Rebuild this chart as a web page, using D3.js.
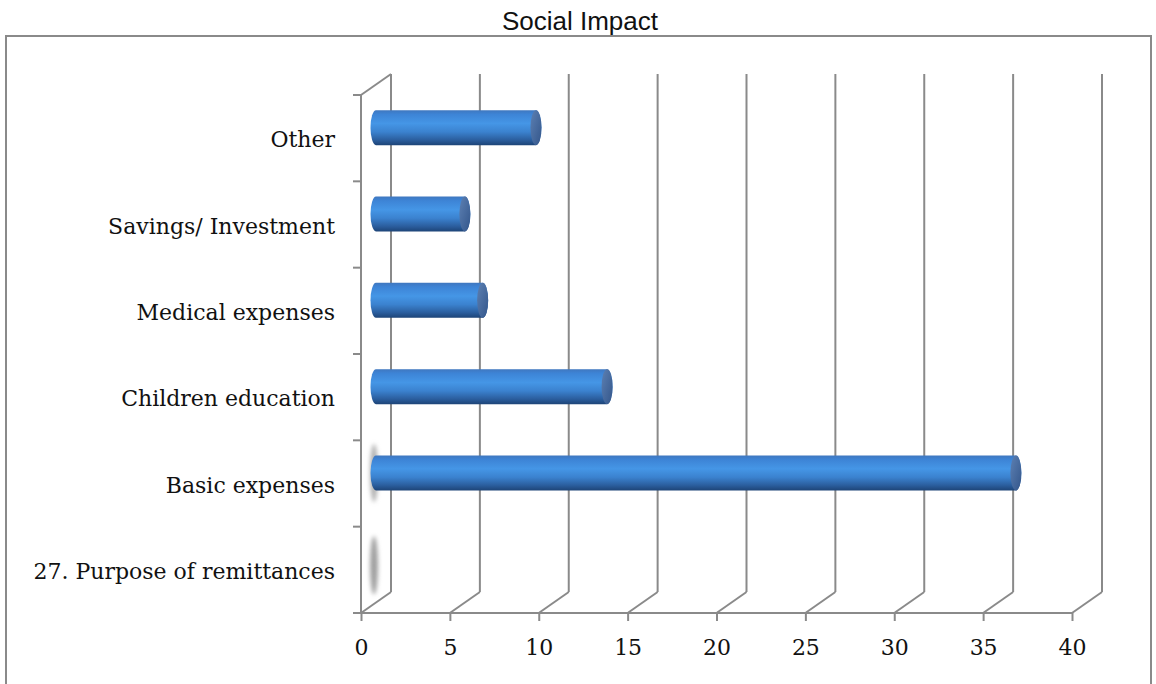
<!DOCTYPE html>
<html>
<head>
<meta charset="utf-8">
<script src="https://cdn.jsdelivr.net/npm/d3@7"></script>
<style>
  html, body { margin: 0; padding: 0; background: #fff; }
  svg { display: block; }
</style>
</head>
<body>
<svg id="chart" width="1156" height="684"></svg>
<script>
// Purpose of remittances, bottom row first
const categories = [
  "27. Purpose of remittances",
  "Basic expenses",
  "Children education",
  "Medical expenses",
  "Savings/ Investment",
  "Other"
];
const values = [0, 36, 13, 6, 5, 9];
const xTicks = [0, 5, 10, 15, 20, 25, 30, 35, 40];
const title = "Social Impact";

const svg = d3.select("#chart");

// front plane geometry and 3D depth offset
const x = d3.scaleLinear().domain([0, 40]).range([361, 1072]);
const y = d3.scaleBand().domain(categories).range([613, 95]).paddingInner(0).paddingOuter(0);
const depth = { dx: 30, dy: -21 };
const gridColor = "#8a8a8a";
const serif = "'DejaVu Serif', 'Liberation Serif', serif";
const labelSize = 22;

// outer frame
svg.append("rect")
  .attr("x", 6).attr("y", 36)
  .attr("width", 1145).attr("height", 660)
  .attr("fill", "none").attr("stroke", gridColor).attr("stroke-width", 2);

svg.append("text")
  .attr("x", 580).attr("y", 30)
  .attr("text-anchor", "middle")
  .attr("font-family", "'Liberation Sans', Arial, sans-serif")
  .attr("font-size", 26)
  .attr("fill", "#111")
  .text(title);

const defs = svg.append("defs");
const bodyGrad = defs.append("linearGradient")
  .attr("id", "cylBody").attr("x1", 0).attr("y1", 0).attr("x2", 0).attr("y2", 1);
[[0, "#3f77bf"], [0.12, "#3d84d6"], [0.38, "#4596e6"], [0.62, "#3b82cf"], [0.85, "#2b5e9e"], [1, "#1d4477"]]
  .forEach(([o, c]) => bodyGrad.append("stop").attr("offset", o).attr("stop-color", c));
const capGrad = defs.append("linearGradient")
  .attr("id", "cylCap").attr("x1", 0).attr("y1", 0).attr("x2", 1).attr("y2", 1);
[[0, "#5d80b2"], [1, "#33568b"]]
  .forEach(([o, c]) => capGrad.append("stop").attr("offset", o).attr("stop-color", c));
defs.append("filter").attr("id", "soft").attr("x", "-200%").attr("y", "-50%").attr("width", "500%").attr("height", "200%")
  .append("feGaussianBlur").attr("stdDeviation", 2);

const grid = svg.append("g").attr("stroke", gridColor).attr("stroke-width", 2).attr("fill", "none");

// back wall verticals and floor diagonals
xTicks.forEach(t => {
  const xf = x(t);
  grid.append("line")
    .attr("x1", xf + depth.dx).attr("y1", 95 + depth.dy)
    .attr("x2", xf + depth.dx).attr("y2", 613 + depth.dy);
  grid.append("line")
    .attr("x1", xf).attr("y1", 613)
    .attr("x2", xf + depth.dx).attr("y2", 613 + depth.dy);
});

// side wall: front vertical axis plus top diagonal
grid.append("line").attr("x1", x(0)).attr("y1", 95).attr("x2", x(0)).attr("y2", 613);
grid.append("line").attr("x1", x(0)).attr("y1", 95).attr("x2", x(0) + depth.dx).attr("y2", 95 + depth.dy);

// category boundary ticks on the left axis
const bounds = categories.map(c => y(c) + y.bandwidth()).concat([y(categories[categories.length - 1])]);
bounds.forEach(b => {
  grid.append("line").attr("x1", x(0) - 8).attr("y1", b).attr("x2", x(0)).attr("y2", b);
});

// bottom value axis
const axis = svg.append("g").attr("transform", "translate(0,613)")
  .call(d3.axisBottom(x).tickValues(xTicks).tickSize(8).tickPadding(18).tickSizeOuter(0));
axis.select(".domain").attr("stroke", gridColor).attr("stroke-width", 2)
  .attr("d", `M${x(0) - 8},0H${x(40)}`);
axis.selectAll(".tick line").attr("stroke", gridColor).attr("stroke-width", 2);
axis.selectAll(".tick text")
  .attr("font-family", serif).attr("font-size", labelSize).attr("fill", "#111");

// category labels
svg.append("g").selectAll("text")
  .data(categories)
  .join("text")
  .attr("x", 335)
  .attr("y", d => y(d) + y.bandwidth() / 2)
  .attr("dy", "0.42em")
  .attr("text-anchor", "end")
  .attr("font-family", serif)
  .attr("font-size", labelSize)
  .attr("fill", "#111")
  .text(d => d);

// cylinders sit halfway into the depth
const midX = v => x(v) + depth.dx / 2;
const midY = c => y(c) + y.bandwidth() / 2 + depth.dy / 2;
const ry = 17.5, rx = 5.5;

const rows = categories.map((c, i) => ({ c, v: values[i] }));

// soft grey end-on traces near the origin
const ghosts = svg.append("g").attr("filter", "url(#soft)");
rows.filter(d => d.v === 0 || d.v === d3.max(values)).forEach(d => {
  ghosts.append("ellipse")
    .attr("cx", midX(0) - 2).attr("cy", midY(d.c) + (d.v === 0 ? 6 : 0))
    .attr("rx", 4).attr("ry", 29)
    .attr("fill", d.v === 0 ? "#a0a0a0" : "#b0b0b0");
});

const bars = svg.append("g");
rows.filter(d => d.v > 0).forEach(d => {
  const x0 = midX(0), x1 = midX(d.v), cy = midY(d.c);
  bars.append("path")
    .attr("d", `M${x0},${cy - ry} L${x1},${cy - ry} A${rx},${ry} 0 0 1 ${x1},${cy + ry} L${x0},${cy + ry} A${rx},${ry} 0 0 1 ${x0},${cy - ry} Z`)
    .attr("fill", "url(#cylBody)");
  bars.append("ellipse")
    .attr("cx", x1).attr("cy", cy).attr("rx", rx).attr("ry", ry)
    .attr("fill", "url(#cylCap)");
});
</script>
</body>
</html>
